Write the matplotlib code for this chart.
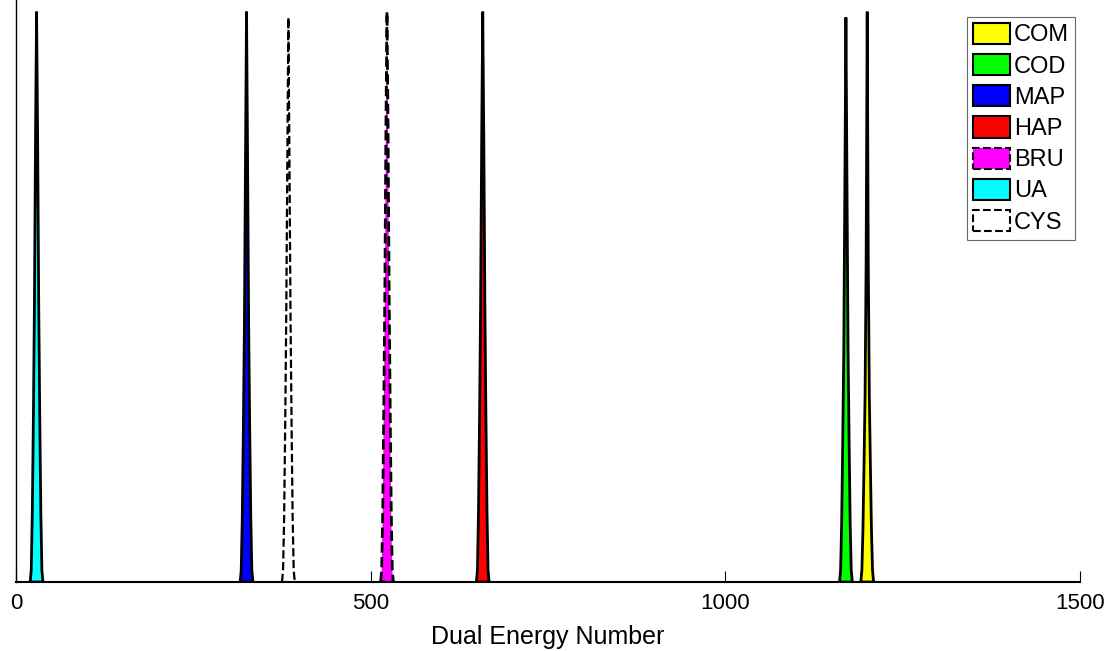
import matplotlib
matplotlib.use("Agg")
import matplotlib.pyplot as plt
from matplotlib.patches import Patch

plt.rcParams["font.family"] = ["Liberation Sans", "DejaVu Sans"]

# material peaks (centre of each histogram peak on the dual energy axis)
materials = ["COM", "COD", "MAP", "HAP", "BRU", "UA", "CYS"]
colors = ["#ffff00", "#00ff00", "#0000ff", "#ff0000", "#ff00ff", "#00ffff", "none"]
styles = ["-", "-", "-", "-", "--", "-", "--"]
centers = [1200, 1170, 325, 658, 523, 29, 384]

# histogram bin offsets around each centre
bin_offsets = [-9, -7.5, -6, -4.5, -3, -1.5, 0, 1.5, 3, 4.5, 6, 7.5, 9]

# normalised counts
counts = {
    "COM": [0, 0.02, 0.09, 0.20, 0.32, 0.55, 0.98, 0.55, 0.32, 0.20, 0.09, 0.02, 0],
    "COD": [0, 0.02, 0.10, 0.24, 0.40, 0.68, 0.97, 0.68, 0.40, 0.24, 0.10, 0.02, 0],
    "MAP": [0, 0.02, 0.11, 0.26, 0.44, 0.72, 0.98, 0.72, 0.44, 0.26, 0.11, 0.02, 0],
    "HAP": [0, 0.02, 0.12, 0.28, 0.48, 0.76, 0.98, 0.76, 0.48, 0.28, 0.12, 0.02, 0],
    "BRU": [0, 0.02, 0.12, 0.30, 0.50, 0.78, 0.98, 0.78, 0.50, 0.30, 0.12, 0.02, 0],
    "UA": [0, 0.02, 0.12, 0.28, 0.48, 0.76, 0.98, 0.76, 0.48, 0.28, 0.12, 0.02, 0],
    "CYS": [0, 0.02, 0.11, 0.27, 0.46, 0.72, 0.97, 0.72, 0.46, 0.27, 0.11, 0.02, 0],
}

fig = plt.figure(figsize=(11.16, 6.51), dpi=100)
ax = fig.add_axes([16 / 1116, 69 / 651, 1064 / 1116, 582 / 651])

for name, color, ls, c in zip(materials, colors, styles, centers):
    x = [c + o for o in bin_offsets]
    y = counts[name]
    if color == "none":
        ax.plot(x, y, color="black", linestyle="--", linewidth=1.6)
    else:
        ax.fill(x, y, facecolor=color, edgecolor="black", linewidth=2.0, linestyle=ls)

ax.set_xlim(0, 1500)
ax.set_ylim(0, 1.0)
ax.set_xticks([0, 500, 1000, 1500])
ax.set_yticks([])
ax.tick_params(axis="x", direction="in", length=8, width=0.8, labelsize=16, pad=8)
ax.spines["top"].set_visible(False)
ax.spines["right"].set_visible(False)
ax.spines["bottom"].set_linewidth(1.5)
ax.spines["left"].set_linewidth(1.0)
ax.set_xlabel("Dual Energy Number", fontsize=18, labelpad=8)

handles = []
for name, color, ls in zip(materials, colors, styles):
    handles.append(Patch(facecolor=color, edgecolor="black", linewidth=1.5, linestyle=ls, label=name))
leg = ax.legend(handles=handles, loc="upper right", bbox_to_anchor=(0.9953, 0.971),
                fontsize=17, handlelength=1.57, handleheight=1.0, handletextpad=0.17,
                labelspacing=0.32, borderpad=0.25, borderaxespad=0, fancybox=False)
leg.get_frame().set_edgecolor("#444444")
leg.get_frame().set_linewidth(0.8)

fig.savefig("out.png", dpi=100)
